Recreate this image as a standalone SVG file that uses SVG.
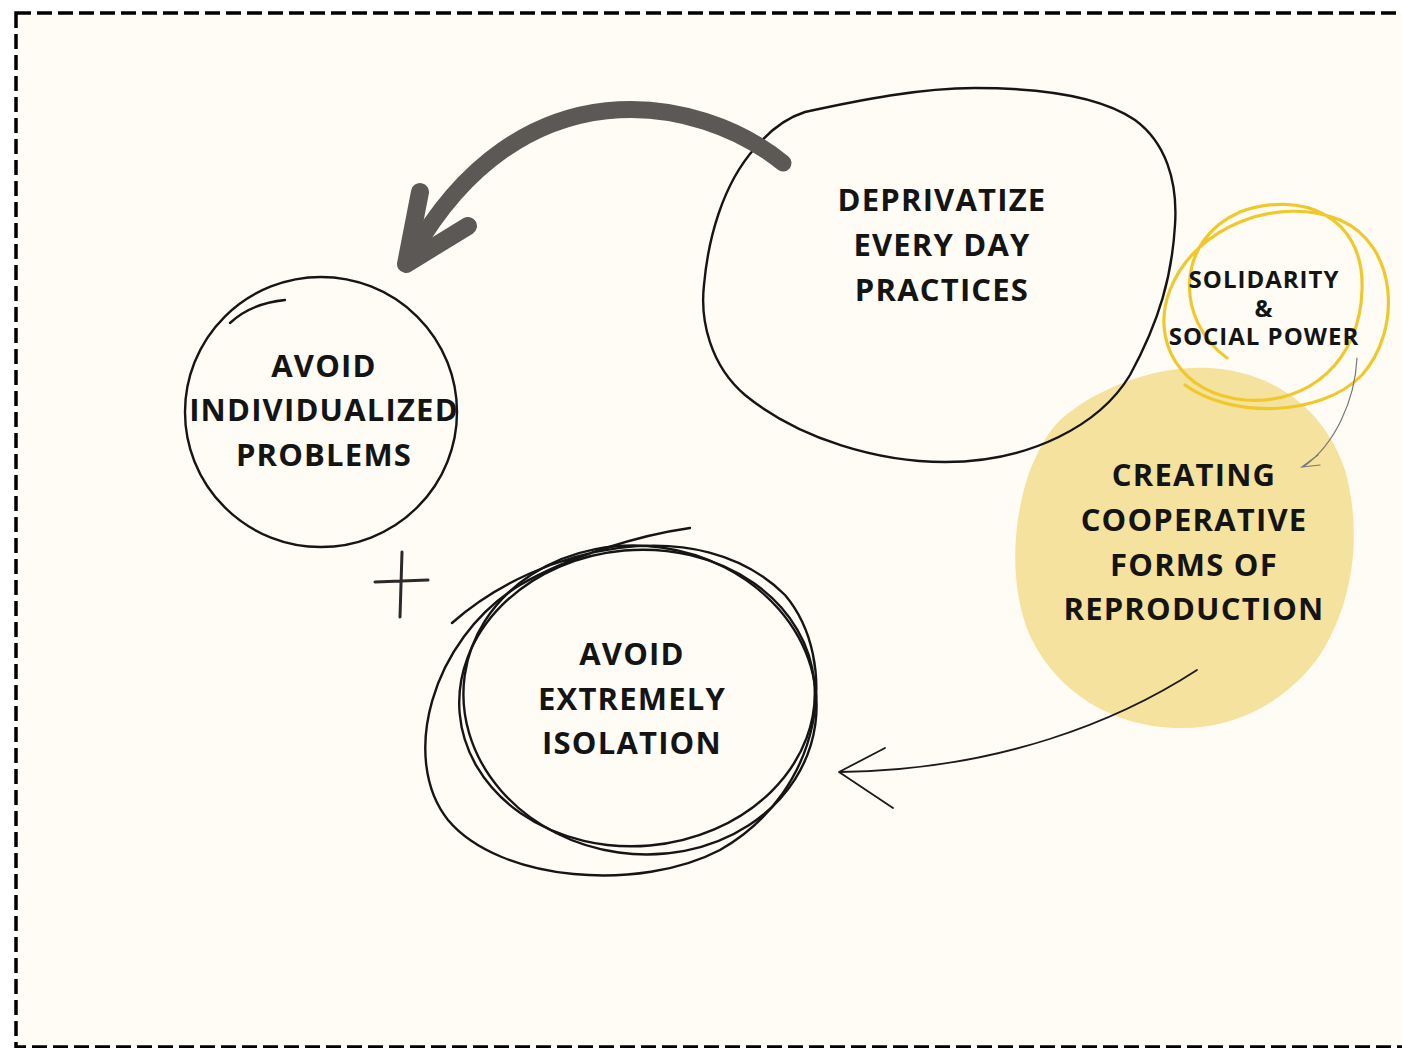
<svg xmlns="http://www.w3.org/2000/svg" width="1402" height="1048" viewBox="0 0 1402 1048">
<style>
.t{font-family:"Open Sans","Liberation Sans",sans-serif;font-weight:700;fill:#141414;text-anchor:middle}
.big{font-size:31px;letter-spacing:1.2px}
.sm{font-size:24px;letter-spacing:1px}
.ink{fill:none;stroke:#151515;stroke-width:2.4;stroke-linecap:round}
.yel{fill:none;stroke:#EFC92C;stroke-width:3.2;stroke-linecap:round}
</style>
<rect x="0" y="0" width="1402" height="1048" fill="#ffffff"/>
<rect x="16" y="13" width="1420" height="1034" fill="#FEFCF5" stroke="#000" stroke-width="3.5" stroke-dasharray="15 6"/>

<g id="node-creating">
<path d="M1060,420 C1100,385 1160,365 1210,368 C1275,372 1325,410 1345,470 C1362,530 1355,600 1320,655 C1285,705 1230,730 1175,728 C1115,726 1060,695 1032,640 C1008,590 1012,520 1030,470 C1040,447 1048,432 1060,420 Z" fill="#F5E29E"/>
<text class="t big" x="1194" y="486">CREATING</text>
<text class="t big" x="1194" y="531">COOPERATIVE</text>
<text class="t big" x="1194" y="576">FORMS OF</text>
<text class="t big" x="1194" y="620">REPRODUCTION</text>
</g>

<g id="node-deprivatize">
<path class="ink" d="M805,112 C860,100 920,88 975,88 C1040,88 1100,96 1135,120 C1165,142 1178,180 1175,225 C1172,275 1160,320 1130,375 C1100,425 1030,462 945,462 C880,462 800,440 745,395 C710,365 700,320 704,285 C708,240 722,185 755,148 C770,130 786,118 805,112"/>
<text class="t big" x="942" y="211">DEPRIVATIZE</text>
<text class="t big" x="942" y="256">EVERY DAY</text>
<text class="t big" x="942" y="301">PRACTICES</text>
</g>

<g id="node-individualized">
<ellipse class="ink" cx="321" cy="412" rx="136" ry="135"/>
<path class="ink" d="M230,323 C245,309 265,302 285,300" stroke-width="1.6"/>
<text class="t big" x="324" y="377">AVOID</text>
<text class="t big" x="324" y="421">INDIVIDUALIZED</text>
<text class="t big" x="324" y="466">PROBLEMS</text>
</g>

<g id="node-solidarity">
<path class="yel" d="M1227,358 C1175,320 1175,240 1240,212 C1300,190 1365,215 1362,290 C1360,360 1310,405 1245,400 C1180,395 1150,340 1170,290 C1195,225 1280,195 1340,220 C1398,245 1402,330 1362,375 C1320,418 1230,418 1185,385"/>
<text class="t sm" x="1264" y="288">SOLIDARITY</text>
<text class="t sm" x="1264" y="317">&amp;</text>
<text class="t sm" x="1264" y="345">SOCIAL POWER</text>
</g>

<g id="node-isolation">
<ellipse class="ink" cx="637" cy="698" rx="178" ry="148" transform="rotate(-5 637 698)"/>
<ellipse class="ink" cx="640" cy="700" rx="177" ry="154" transform="rotate(8 640 700)"/>
<path class="ink" d="M452,623 C540,545 700,510 785,595 C840,660 825,790 720,850 C640,892 500,882 448,820 C400,760 430,640 520,585 C570,556 640,535 690,528"/>
<text class="t big" x="632" y="665">AVOID</text>
<text class="t big" x="632" y="710">EXTREMELY</text>
<text class="t big" x="632" y="754">ISOLATION</text>
</g>

<g id="plus">
<path d="M375,582 L428,580 M402,552 L400,617" fill="none" stroke="#2a2a2a" stroke-width="3" stroke-linecap="round"/>
</g>

<g id="connectors">
<path d="M783,163 C700,95 520,60 410,258" fill="none" stroke="#5B5855" stroke-width="17" stroke-linecap="round"/>
<path d="M420,192 L406,264 L468,226" fill="none" stroke="#5B5855" stroke-width="18" stroke-linecap="round" stroke-linejoin="round"/>
<path d="M1357,358 C1355,400 1335,445 1303,467 M1318,455 L1302,467 L1320,465" fill="none" stroke="#777" stroke-width="1.2" stroke-linecap="round"/>
<path d="M1197,670 C1120,720 1000,770 840,772 M885,748 L839,772 L893,808" fill="none" stroke="#1a1a1a" stroke-width="1.8" stroke-linecap="round" stroke-linejoin="round"/>
</g>
</svg>
